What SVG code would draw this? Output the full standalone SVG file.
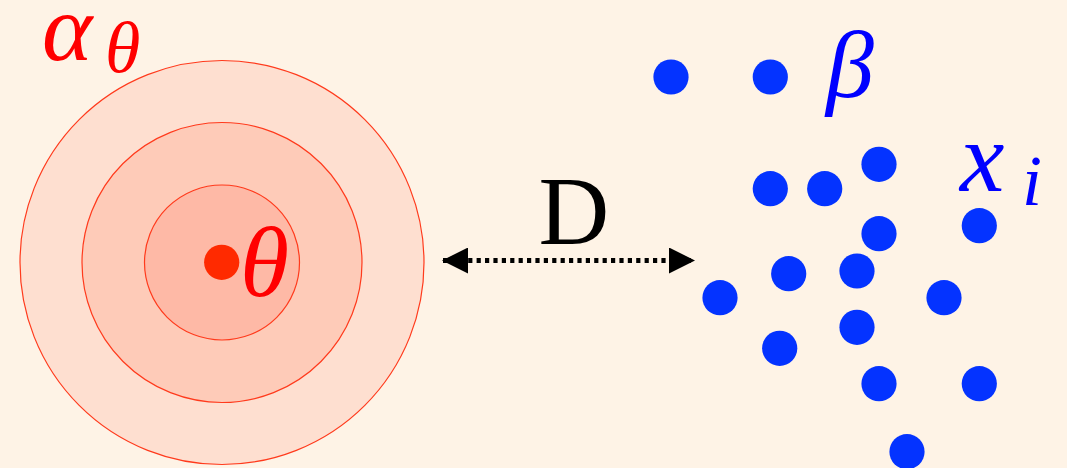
<svg xmlns="http://www.w3.org/2000/svg" width="1067" height="468" viewBox="0 0 1067 468">
<style>
.ring{stroke:#ff3a1c;stroke-width:1.2}
.pt{fill:#0433ff}
.red{fill:#ff0000;font-family:"Liberation Serif","DejaVu Serif",serif;font-style:italic}
.blue{fill:#0000ff;font-family:"Liberation Serif","DejaVu Serif",serif;font-style:italic}
.lbl{fill:#000;font-family:"Liberation Serif","DejaVu Serif",serif}
</style>
<defs>
<marker id="ah" viewBox="0 0 26 26" refX="25" refY="13" markerWidth="26" markerHeight="26" markerUnits="userSpaceOnUse" orient="auto-start-reverse">
<path d="M0,0 L26,13 L0,26 Z" fill="#000"/>
</marker>
</defs>
<rect width="1067" height="468" fill="#fef3e6"/>
<g id="alpha">
<circle class="ring" cx="222" cy="262.5" r="202" fill="#fedfd0"/>
<circle class="ring" cx="222" cy="262.5" r="140" fill="#fecbb8"/>
<circle class="ring" cx="222" cy="262.5" r="77.5" fill="#feb9a6"/>
<circle cx="221.7" cy="262.3" r="17.6" fill="#ff2a00"/>
<text class="red" x="240" y="296" font-size="100">θ</text>
<text class="red" x="42" y="60" font-size="96">α</text>
<text class="red" x="105" y="72" font-size="72">θ</text>
</g>
<g id="connectors">
<line x1="443" y1="260.5" x2="694" y2="260.5" stroke="#000" stroke-width="5" stroke-dasharray="4.2 4.2" marker-start="url(#ah)" marker-end="url(#ah)"/>
<text class="lbl" x="574" y="244" font-size="98" text-anchor="middle">D</text>
</g>
<g id="data">
<circle class="pt" cx="671" cy="77" r="17.6"/>
<circle class="pt" cx="770.3" cy="77" r="17.6"/>
<circle class="pt" cx="879" cy="164.3" r="17.6"/>
<circle class="pt" cx="770.3" cy="188.7" r="17.6"/>
<circle class="pt" cx="824.7" cy="188.7" r="17.6"/>
<circle class="pt" cx="879" cy="233.7" r="17.6"/>
<circle class="pt" cx="979.3" cy="225.7" r="17.6"/>
<circle class="pt" cx="788.7" cy="273.7" r="17.6"/>
<circle class="pt" cx="857" cy="271" r="17.6"/>
<circle class="pt" cx="720" cy="297.7" r="17.6"/>
<circle class="pt" cx="944" cy="297.7" r="17.6"/>
<circle class="pt" cx="857" cy="327.3" r="17.6"/>
<circle class="pt" cx="779.7" cy="348.3" r="17.6"/>
<circle class="pt" cx="879" cy="383.7" r="17.6"/>
<circle class="pt" cx="979.3" cy="383.7" r="17.6"/>
<circle class="pt" cx="907" cy="451.7" r="17.6"/>
<text class="blue" x="826" y="97" font-size="96">β</text>
<text class="blue" x="960" y="191" font-size="100">x</text>
<text class="blue" x="1022" y="205" font-size="72">i</text>
</g>
</svg>
